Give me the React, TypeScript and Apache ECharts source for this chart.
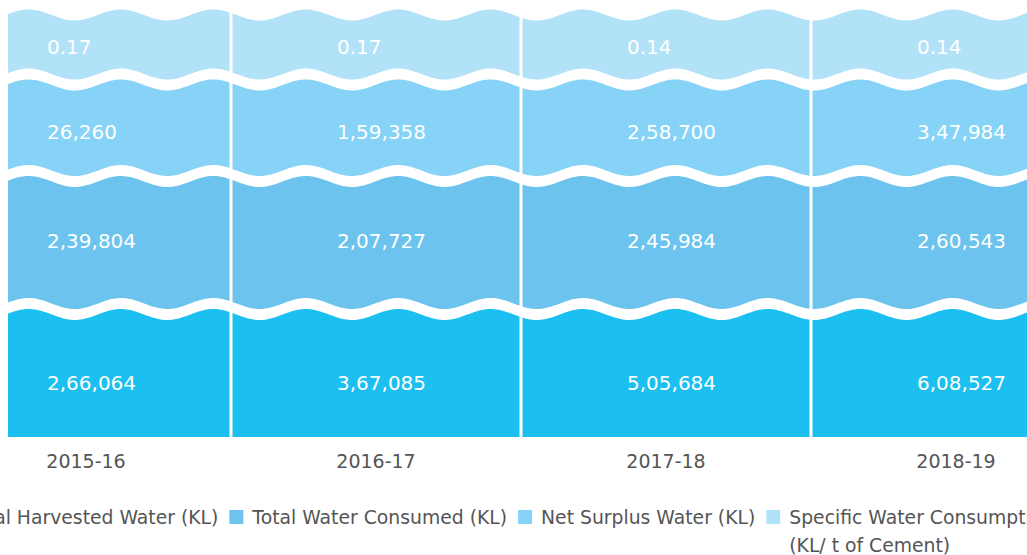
import React, { useEffect, useRef } from "react";
import * as echarts from "echarts";

// ---- data ----
const categories = ["2015-16", "2016-17", "2017-18", "2018-19"];
const seriesNames = [
  "Total Harvested Water (KL)",
  "Total Water Consumed (KL)",
  "Net Surplus Water (KL)",
  "Specific Water Consumption (KL/ t of Cement)",
];
const harvested = [266064, 367085, 505684, 608527];
const consumed = [239804, 207727, 245984, 260543];
const surplus = [26260, 159358, 258700, 347984];
const specific = [0.17, 0.17, 0.14, 0.14];
const seriesValues = [harvested, consumed, surplus, specific];

// ---- layout / style (not data) ----
const bandHeights = [128, 133, 96.5, 64.5]; // visual band sizes, bottom -> top
const colors = ["#1BBFF0", "#6CC4EE", "#86D3F7", "#B1E2F8"];
const labelDy = [10, -2, 4, 0];
const FONT = "DejaVu Sans";
const GAP = 3;
const HALF = 5.5;
const AMP = 5.5;
const PERIOD = 92.4;
const CREST_X = 221;
const LABEL_DX = -39;

function fmtIN(n: number): string {
  if (n < 1) return n.toFixed(2);
  const s = String(Math.round(n));
  if (s.length <= 3) return s;
  const last3 = s.slice(-3);
  let rest = s.slice(0, -3);
  const parts: string[] = [];
  while (rest.length > 2) {
    parts.unshift(rest.slice(-2));
    rest = rest.slice(0, -2);
  }
  if (rest) parts.unshift(rest);
  return parts.join(",") + "," + last3;
}

const wave = (x: number) => -AMP * Math.cos((2 * Math.PI * (x - CREST_X)) / PERIOD);

export default function App() {
  const ref = useRef<HTMLDivElement>(null);
  useEffect(() => {
    const chart = echarts.init(ref.current!, null, { renderer: "svg" });
    const total = bandHeights.reduce((a, b) => a + b, 0);
    const last = seriesNames.length - 1;

    const series = seriesNames.map((name, si) => {
      const lo = bandHeights.slice(0, si).reduce((a, b) => a + b, 0);
      const hi = lo + bandHeights[si];
      return {
        type: "custom",
        name,
        itemStyle: { color: colors[si] },
        encode: { x: 0, y: [1, 2] },
        data: categories.map((_, c) => [c, lo, hi]),
        renderItem: (params: any, api: any) => {
          const cat = api.value(0);
          const vLo = api.value(1);
          const vHi = api.value(2);
          const pLo = api.coord([cat, vLo]);
          const pHi = api.coord([cat, vHi]);
          const cx = pLo[0];
          const yLo = pLo[1];
          const yHi = pHi[1];
          const bw = api.size([1, 0])[0];
          const x0 = cx - bw / 2 + GAP / 2;
          const x1 = cx + bw / 2 - GAP / 2;
          const isTop = si === last;
          const isBottom = si === 0;
          const topOff = isTop ? 0 : HALF;
          const pts: number[][] = [];
          for (let x = x0; x < x1; x += 2) pts.push([x, yHi + topOff + wave(x)]);
          pts.push([x1, yHi + topOff + wave(x1)]);
          if (isBottom) {
            pts.push([x1, yLo], [x0, yLo]);
          } else {
            for (let x = x1; x > x0; x -= 2) pts.push([x, yLo - HALF + wave(x)]);
            pts.push([x0, yLo - HALF + wave(x0)]);
          }
          const text = fmtIN(seriesValues[si][params.dataIndex]);
          return {
            type: "group",
            children: [
              {
                type: "polygon",
                shape: { points: pts },
                style: { fill: api.visual("color") },
              },
              {
                type: "text",
                style: {
                  text,
                  x: cx + LABEL_DX,
                  y: (yLo + yHi) / 2 + labelDy[si],
                  align: "left",
                  verticalAlign: "middle",
                  fill: "#ffffff",
                  fontSize: 20,
                  fontFamily: FONT,
                },
              },
            ],
          };
        },
      };
    });

    chart.setOption({
      animation: false,
      backgroundColor: "#ffffff",
      grid: { left: 41, width: 1160, top: 15, bottom: 118 },
      xAxis: {
        type: "category",
        data: categories,
        axisLine: { show: false },
        axisTick: { show: false },
        splitLine: { show: false },
        axisLabel: { fontSize: 19, color: "#555555", fontFamily: FONT, margin: 14 },
      },
      yAxis: { type: "value", min: 0, max: total, show: false },
      legend: {
        left: 44,
        top: 475,
        padding: 0,
        itemWidth: 14,
        itemHeight: 14,
        itemGap: 11,
        icon: "rect",
        formatter: (name: string) =>
          name.indexOf(" (KL/") >= 0
            ? " \n" + name.replace(" (KL/", "\n(KL/")
            : " \n" + name + "\n ",
        textStyle: {
          fontSize: 18.8,
          color: "#555555",
          fontFamily: FONT,
          lineHeight: 28,
          padding: [0, 0, 0, 4],
        },
        data: seriesNames,
      },
      graphic: [
        {
          type: "rect",
          shape: { x: 0, y: 0, width: 108, height: 445 },
          style: { fill: "#ffffff" },
          z: 100,
        },
      ],
      series,
    });
    return () => chart.dispose();
  }, []);
  return (
    <div
      style={{
        position: "fixed",
        left: 0,
        top: 0,
        width: "100vw",
        height: "100vh",
        overflow: "hidden",
        background: "#fff",
      }}
    >
      <div ref={ref} style={{ position: "absolute", left: -100, top: 0, width: 1300, height: 555 }} />
    </div>
  );
}
